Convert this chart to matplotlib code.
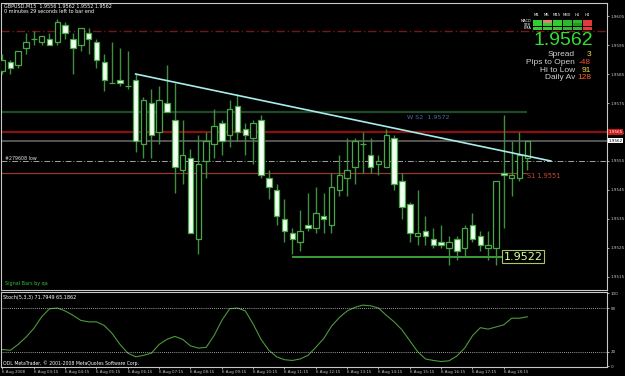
import matplotlib
matplotlib.use("Agg")
import matplotlib.pyplot as plt
from matplotlib.patches import Rectangle
import numpy as np

# GBPUSD M15 candles
opens = [1.9586, 1.9589, 1.9588, 1.9594, 1.9597, 1.9596, 1.9597, 1.9596, 1.9602, 1.9597,
         1.9595, 1.9599, 1.9596, 1.9589, 1.9582, 1.9583, 1.9581, 1.9583, 1.9561, 1.9575,
         1.9565, 1.9575, 1.9569, 1.9552, 1.9556, 1.9528, 1.9555, 1.9561, 1.9568, 1.9564,
         1.9574, 1.9566, 1.9563, 1.9569, 1.9549, 1.9545, 1.9535, 1.9530, 1.9527, 1.9533,
         1.9532, 1.9536, 1.9533, 1.9545, 1.9549, 1.9553, 1.9561, 1.9557, 1.9554, 1.9553,
         1.9563, 1.9548, 1.9540, 1.9529, 1.9531, 1.9528, 1.9527, 1.9525, 1.9528, 1.9525,
         1.9533, 1.9529, 1.9525, 1.9525, 1.9551, 1.9549, 1.9549, 1.9556]
highs = [1.9592, 1.9590, 1.9593, 1.9599, 1.9600, 1.9598, 1.9599, 1.9604, 1.9603, 1.9599,
         1.9601, 1.9601, 1.9597, 1.9592, 1.9596, 1.9594, 1.9593, 1.9585, 1.9577, 1.9580,
         1.9581, 1.9588, 1.9582, 1.9569, 1.9559, 1.9564, 1.9565, 1.9573, 1.9569, 1.9576,
         1.9578, 1.9568, 1.9569, 1.9571, 1.9552, 1.9547, 1.9542, 1.9532, 1.9538, 1.9544,
         1.9546, 1.9544, 1.9551, 1.9557, 1.9563, 1.9563, 1.9565, 1.9563, 1.9557, 1.9566,
         1.9564, 1.9551, 1.9541, 1.9545, 1.9536, 1.9532, 1.9533, 1.9529, 1.9529, 1.9533,
         1.9537, 1.9531, 1.9531, 1.9548, 1.9571, 1.9562, 1.9565, 1.9562]
lows = [1.9585, 1.9585, 1.9587, 1.9592, 1.9595, 1.9595, 1.9595, 1.9595, 1.9597, 1.9585,
        1.9593, 1.9592, 1.9587, 1.9579, 1.9582, 1.9581, 1.9580, 1.9558, 1.9556, 1.9556,
        1.9561, 1.9572, 1.9544, 1.9547, 1.9530, 1.9523, 1.9549, 1.9556, 1.9557, 1.9560,
        1.9562, 1.9557, 1.9554, 1.9549, 1.9542, 1.9533, 1.9527, 1.9523, 1.9524, 1.9531,
        1.9530, 1.9530, 1.9530, 1.9543, 1.9543, 1.9547, 1.9551, 1.9551, 1.9550, 1.9553,
        1.9545, 1.9535, 1.9527, 1.9526, 1.9526, 1.9525, 1.9525, 1.9519, 1.9521, 1.9522,
        1.9527, 1.9524, 1.9521, 1.9519, 1.9532, 1.9543, 1.9548, 1.9552]
closes = [1.9590, 1.9587, 1.9593, 1.9596, 1.9597, 1.9598, 1.9595, 1.9603, 1.9599, 1.9594,
          1.9601, 1.9597, 1.9590, 1.9583, 1.9582, 1.9582, 1.9581, 1.9562, 1.9576, 1.9564,
          1.9576, 1.9572, 1.9553, 1.9557, 1.9530, 1.9554, 1.9562, 1.9567, 1.9562, 1.9573,
          1.9565, 1.9564, 1.9568, 1.9550, 1.9546, 1.9536, 1.9531, 1.9528, 1.9531, 1.9532,
          1.9537, 1.9535, 1.9546, 1.9550, 1.9552, 1.9562, 1.9561, 1.9553, 1.9555, 1.9564,
          1.9547, 1.9539, 1.9530, 1.9530, 1.9529, 1.9526, 1.9526, 1.9527, 1.9524, 1.9532,
          1.9528, 1.9526, 1.9526, 1.9548, 1.9550, 1.9550, 1.9557, 1.9562]

# Stochastic main line, one value per candle
stoch = [23, 22, 30, 40, 52, 68, 79, 80, 76, 70, 63, 61, 61, 56, 45, 30, 18, 13, 15, 18,
         30, 37, 41, 37, 28, 25, 26, 42, 63, 79, 80, 76, 58, 37, 22, 13, 9, 8, 10, 15,
         26, 38, 55, 67, 76, 81, 84, 83, 80, 70, 61, 50, 35, 20, 10, 8, 6.5, 7.5, 14, 25,
         42, 53, 51, 54, 57, 66, 66, 68]

time_labels = ["6 Aug 2008", "6 Aug 03:15", "6 Aug 04:15", "6 Aug 05:15", "6 Aug 06:15",
               "6 Aug 07:15", "6 Aug 08:15", "6 Aug 09:15", "6 Aug 10:15", "6 Aug 11:15",
               "6 Aug 12:15", "6 Aug 13:15", "6 Aug 14:15", "6 Aug 15:15", "6 Aug 16:15",
               "6 Aug 17:15", "6 Aug 18:15"]
time_label_bars = list(range(0, 68, 4))

price_ticks = [1.9515, 1.9525, 1.9535, 1.9545, 1.9555, 1.9565, 1.9575, 1.9585, 1.9595, 1.9605]

# levels
day_high_line = 1.9600
ws2_level = 1.9572
red_level = 1.9565
bid = 1.9562
low_obj_level = 1.9555
s1_level = 1.9551
low_box_level = 1.9522
trend_x = [17, 70]
trend_y = [1.9585, 1.9555]

tf_cols = ["M1", "M5", "M15", "M30", "H1", "H4"]
tf_rows = ["MACD", "STR", "EMA"]
tf_colors = [["#33cc33", "#e8806e", "#33cc33", "#2fb82f", "#2fb82f", "#e03a3a"],
             ["#33cc33", "#33cc33", "#33cc33", "#2fb82f", "#249a24", "#e03a3a"],
             ["#33cc33", "#33cc33", "#33cc33", "#2fb82f", "#2fb82f", "#e03a3a"]]
stats_names = ["Spread", "Pips to Open", "Hi to Low", "Daily Av"]
stats_vals = ["3", "-48", "91", "128"]
stats_cols = ["#f0e040", "#ff5030", "#f0e040", "#ff6030"]

W, H = 625, 376
fig = plt.figure(figsize=(6.25, 3.76), dpi=100, facecolor="black")

frame = "#c8c8c8"
green_wick = "#3f8f3f"
green_edge = "#48a848"
tick_fs = 3.0

# main price panel
ax = fig.add_axes([1 / W, 1 - 290 / H, 606 / W, 287 / H], facecolor="black")
n = len(opens)
x = np.arange(n)
o = np.array(opens); c = np.array(closes)
ax.vlines(x, lows, highs, color=green_wick, lw=1, zorder=3)
bull = c >= o
ax.bar(x[bull], (c - o)[bull], bottom=o[bull], width=0.72, facecolor="black",
       edgecolor=green_edge, lw=0.9, zorder=4)
ax.bar(x[~bull], (o - c)[~bull], bottom=c[~bull], width=0.72, facecolor="#f2fff2",
       edgecolor=green_edge, lw=0.9, zorder=4)

ax.axhline(day_high_line, color="#7a1515", lw=1, ls=(0, (6, 2, 1, 2)), zorder=1)
ax.hlines(ws2_level, -1, 67, color="#1e4a2a", lw=1.6, zorder=1)
ax.axhline(red_level, color="#8a1010", lw=1.6, zorder=1)
ax.axhline(bid, color="#6c6c6c", lw=1.1, zorder=1)
ax.axhline(low_obj_level, color="#a0a0a0", lw=0.7, ls=(0, (6, 2, 1, 2)), zorder=1)
ax.hlines(s1_level, -1, 67, color="#9a3a2a", lw=0.9, zorder=1)
ax.hlines(low_box_level, 37, 63.8, color="#48c848", lw=1.1, zorder=2)
ax.plot(trend_x, trend_y, color="#a8ecec", lw=1.2, zorder=5)

ax.text(51.6, ws2_level - 0.00012, "W S2  1.9572", color="#4a6aae", fontsize=4.6,
        va="top", ha="left")
ax.text(67, s1_level, "S1 1.9551", color="#c84838", fontsize=4.8, va="top", ha="left")
ax.text(64, low_box_level, "1.9522", color="#d8ff9a", fontsize=8, va="center", ha="left",
        zorder=6, bbox=dict(boxstyle="square,pad=0.12", fc="black", ec="#a8c860", lw=0.8))

ax.set_xlim(-0.19, 77.17)
ax.set_ylim(1.95105, 1.96095)
ax.set_xticks([])
ax.yaxis.tick_right()
ax.set_yticks(price_ticks)
ax.set_yticklabels([f"{p:.4f}" for p in price_ticks])
ax.tick_params(axis="y", colors=frame, labelsize=tick_fs, length=1.5, width=0.6, pad=1)
for s in ax.spines.values():
    s.set_color(frame)
    s.set_linewidth(0.8)

# boxes on the price axis
ax.text(1.002, red_level, "1.9565", transform=ax.get_yaxis_transform(), fontsize=tick_fs,
        color="white", va="center", ha="left",
        bbox=dict(boxstyle="square,pad=0.15", fc="#d01818", ec="none"))
ax.text(1.002, bid, "1.9562", transform=ax.get_yaxis_transform(), fontsize=tick_fs,
        color="black", va="center", ha="left",
        bbox=dict(boxstyle="square,pad=0.15", fc="white", ec="none"))

# stochastic panel
ax2 = fig.add_axes([1 / W, 1 - 367 / H, 606 / W, 75 / H], facecolor="black")
ax2.plot(x, stoch, color="#4a9a3a", lw=0.8)
ax2.axhline(80, color="#d0d0d0", lw=0.6, ls=(0, (1, 1.5)))
ax2.axhline(20, color="#d0d0d0", lw=0.6, ls=(0, (1, 1.5)))
ax2.set_xlim(-0.19, 77.17)
ax2.set_ylim(-1, 102)
ax2.yaxis.tick_right()
ax2.set_yticks([0, 20, 80, 100])
ax2.set_yticklabels(["0", "20", "80", "100"])
ax2.set_xticks(time_label_bars)
ax2.set_xticklabels(time_labels, ha="left")
ax2.tick_params(axis="y", colors=frame, labelsize=tick_fs, length=1.5, width=0.6, pad=1)
ax2.tick_params(axis="x", colors=frame, labelsize=2.9, length=1.5, width=0.6, pad=1)
for s in ax2.spines.values():
    s.set_color(frame)
    s.set_linewidth(0.8)

# overlay in pixel coordinates for the terminal texts and the widget
ov = fig.add_axes([0, 0, 1, 1], facecolor="none")
ov.set_xlim(0, W)
ov.set_ylim(H, 0)
ov.axis("off")

ov.text(4, 6, "GBPUSD,M15  1.9556 1.9562 1.9552 1.9562", color="white", fontsize=3.5,
        va="center")
ov.text(4, 11.5, "0 minutes 29 seconds left to bar end", color="white", fontsize=3.5,
        va="center")
ov.text(5, 158, "#279608 low", color="#e0e0e0", fontsize=3.4, va="center")
ov.text(5, 284, "Signal Bars by qa", color="#30c030", fontsize=3.5, va="center")
ov.text(3, 298, "Stoch(5,3,3) 71.7949 65.1862", color="white", fontsize=3.5, va="center")
ov.text(3, 363, "ODL MetaTrader, \u00a9 2001-2008 MetaQuotes Software Corp.", color="white",
        fontsize=3.3, va="center")

col_x = [533, 543, 553, 563, 573, 583]
row_y = [19.5, 23.2, 26.9]
for j, name in enumerate(tf_cols):
    ov.text(col_x[j] + 4, 15.5, name, color="white", fontsize=2.8, ha="center", va="center")
for i, name in enumerate(tf_rows):
    ov.text(531, row_y[i] + 1.4, name, color="white", fontsize=2.6, ha="right", va="center")
    for j in range(len(tf_cols)):
        ov.add_patch(Rectangle((col_x[j], row_y[i]), 8.5, 3, fc=tf_colors[i][j], ec="none"))

ov.text(593, 40.5, "1.9562", color="#33dd33", fontsize=14, ha="right", va="center",
        family="Liberation Sans")
for i, (nm, v, cl) in enumerate(zip(stats_names, stats_vals, stats_cols)):
    yy = 55 + 7.5 * i
    ov.text(575, yy, nm, color="#d0d0d0", fontsize=6, ha="right", va="center",
            family="Liberation Sans")
    ov.text(591, yy, v, color=cl, fontsize=6, ha="right", va="center",
            family="Liberation Sans")

fig.savefig("out.png", dpi=100, facecolor="black")
